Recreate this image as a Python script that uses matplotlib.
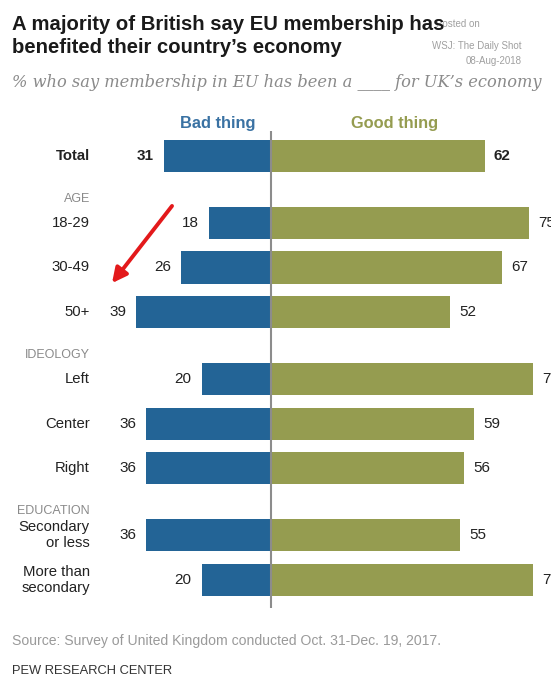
import matplotlib.pyplot as plt

plt.rcParams['font.family'] = ['Liberation Sans', 'DejaVu Sans']

# data
categories = ['Total', '18-29', '30-49', '50+', 'Left', 'Center', 'Right',
              'Secondary\nor less', 'More than\nsecondary']
bad = [31, 18, 26, 39, 20, 36, 36, 36, 20]
good = [62, 75, 67, 52, 76, 59, 56, 55, 76]
groups = ['AGE', 'IDEOLOGY', 'EDUCATION']
group_first = [1, 4, 7]   # index of first row of each group

BLUE = '#236496'
OLIVE = '#959C50'
GREY = '#8a8a8a'

# row positions: half a row of extra room before each group
rows = []
extra = 0
for i in range(len(categories)):
    if i in group_first:
        extra += 0.5
    rows.append(i + extra)

W, H = 551, 677
fig = plt.figure(figsize=(W / 100, H / 100), dpi=100)
ax = fig.add_axes([0, 0, 1, 1])
# 3.45 px per percentage point, centre line at x=270.7px, 44.6 px per row
cx, px = 270.7, 3.45
y0, py = 156, 44.6
ax.set_xlim(-cx / px, (W - cx) / px)
ax.set_ylim((H - y0) / py, -y0 / py)
ax.axis('off')

ax.barh(rows, [-b for b in bad], height=0.72, color=BLUE, zorder=2)
ax.barh(rows, good, height=0.72, color=OLIVE, zorder=2)
ax.vlines(0, -0.55, rows[-1] + 0.63, color='#8c8c8c', lw=1.5, zorder=3)

for i, (r, b, g) in enumerate(zip(rows, bad, good)):
    wt = 'bold' if i == 0 else 'normal'
    ax.text(-b - 2.9, r, str(b), ha='right', va='center', fontsize=11,
            fontweight=wt, color='#222222')
    ax.text(g + 2.6, r, str(g), ha='left', va='center', fontsize=11,
            fontweight=wt, color='#222222')
    ax.text(-52.4, r, categories[i], ha='right', va='center', fontsize=10.7,
            fontweight=wt, color='#222222', linespacing=1.15)

for name, idx in zip(groups, group_first):
    ax.text(-52.4, rows[idx] - 0.53, name, ha='right', va='center',
            fontsize=9, color=GREY)

ax.text(-15.3, -0.72, 'Bad thing', ha='center', va='center', fontsize=11.8,
        fontweight='bold', color='#3a72a3')
ax.text(36.0, -0.72, 'Good thing', ha='center', va='center', fontsize=11.8,
        fontweight='bold', color=OLIVE)

# red arrow pointing at the 50+ row
ax.annotate('', xy=(-46, 2.85), xytext=(-28.6, 1.12),
            arrowprops=dict(arrowstyle='-|>', color='#e3191b', lw=2.8,
                            mutation_scale=22, shrinkA=0, shrinkB=0))

# titles and notes
fig.text(480 / W, 1 - 27 / H, 'Posted on', fontsize=7, color='#a0a0a0',
         ha='right', va='baseline', zorder=1)
fig.text(522 / W, 1 - 49 / H, 'WSJ: The Daily Shot', fontsize=7,
         color='#a0a0a0', ha='right', va='baseline')
fig.text(522 / W, 1 - 64 / H, '08-Aug-2018', fontsize=7, color='#a0a0a0',
         ha='right', va='baseline')

fig.text(12 / W, 1 - 30 / H, 'A majority of British say EU membership has',
         fontsize=14.6, fontweight='bold', color='#1a1a1a', va='baseline',
         zorder=5)
fig.text(12 / W, 1 - 53 / H, 'benefited their country\u2019s economy',
         fontsize=14.6, fontweight='bold', color='#1a1a1a', va='baseline')
fig.text(12 / W, 1 - 87 / H,
         '% who say membership in EU has been a ____ for UK\u2019s economy',
         fontsize=11.7, style='italic', family='DejaVu Serif', color=GREY,
         va='baseline')

fig.text(12 / W, 1 - 645 / H,
         'Source: Survey of United Kingdom conducted Oct. 31-Dec. 19, 2017.',
         fontsize=10.1, color='#9a9a9a', va='baseline')
fig.text(12 / W, 1 - 674 / H, 'PEW RESEARCH CENTER', fontsize=9.3,
         color='#333333', va='baseline')

fig.savefig('out.png', dpi=100)
